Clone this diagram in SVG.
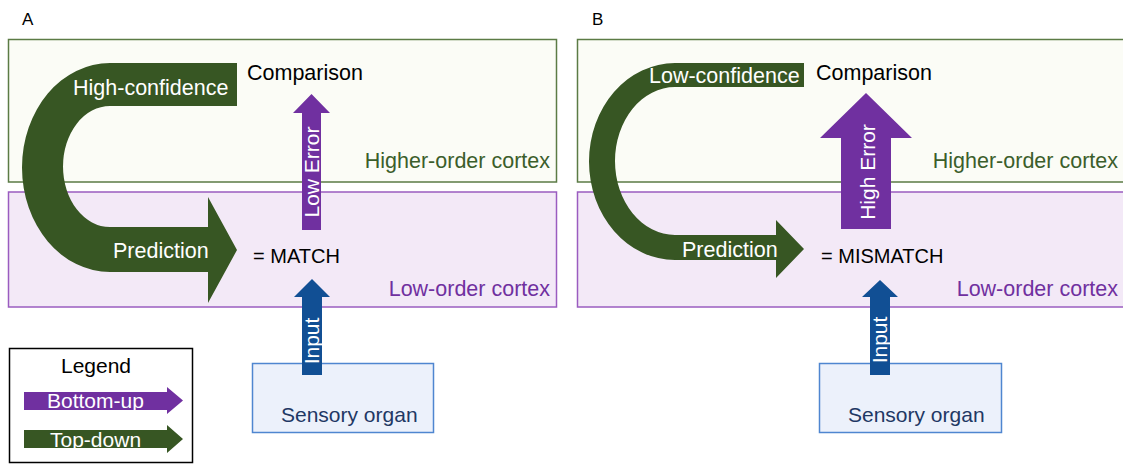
<svg xmlns="http://www.w3.org/2000/svg" width="1123" height="464" viewBox="0 0 1123 464">
<style>
text{font-family:"Liberation Sans",Arial,sans-serif;}
.hi{fill:#fbfcf6;stroke:#5b7b45;stroke-width:1.5;}
.lo{fill:#f3e9f7;stroke:#9a5cc0;stroke-width:1.5;}
.so{fill:#ecf1fb;stroke:#4f86d0;stroke-width:1.5;}
.td{fill:#375623;}
.bu{fill:#7030a0;}
.in{fill:#114f94;}
.lbl{font-size:21.5px;fill:#000;}
.wt{font-size:21.5px;fill:#fff;}
.wr{font-size:21px;fill:#fff;text-anchor:middle;}
.hl{font-size:21.5px;fill:#3b5e2b;text-anchor:end;}
.ll{font-size:21.5px;fill:#7030a0;text-anchor:end;}
.sl{font-size:21px;fill:#1f3864;}
.pl{font-size:17px;fill:#000;}
</style>

<g id="panel-labels">
<text class="pl" x="22" y="25">A</text>
<text class="pl" x="592" y="25">B</text>
</g>

<g id="higher-cortex-A">
<rect class="hi" x="8.5" y="39.5" width="548" height="142.5"/>
<text class="hl" x="550" y="168">Higher-order cortex</text>
</g>
<g id="low-cortex-A">
<rect class="lo" x="8.5" y="192" width="548" height="115"/>
<text class="ll" x="550" y="296">Low-order cortex</text>
</g>
<g id="sensory-A">
<rect class="so" x="252.5" y="363.5" width="181" height="69"/>
<text class="sl" x="281" y="422">Sensory organ</text>
</g>
<g id="comparison-A"><text class="lbl" x="247" y="80">Comparison</text></g>
<g id="match-A"><text class="lbl" style="font-size:20px" x="253" y="263">= MATCH</text></g>

<g id="higher-cortex-B">
<rect class="hi" x="577.5" y="39.5" width="560" height="142.5"/>
<text class="hl" x="1118" y="168">Higher-order cortex</text>
</g>
<g id="low-cortex-B">
<rect class="lo" x="577.5" y="192" width="560" height="115"/>
<text class="ll" x="1118" y="296">Low-order cortex</text>
</g>
<g id="sensory-B">
<rect class="so" x="819.5" y="363.5" width="182" height="69"/>
<text class="sl" x="848" y="422">Sensory organ</text>
</g>
<g id="comparison-B"><text class="lbl" x="816" y="80">Comparison</text></g>
<g id="mismatch-B"><text class="lbl" style="font-size:20px" x="821" y="263">= MISMATCH</text></g>

<g id="legend">
<rect x="9.5" y="348.5" width="183" height="114" fill="#fff" stroke="#000" stroke-width="1.5"/>
<text x="96" y="373" style="font-size:21px;fill:#000;text-anchor:middle">Legend</text>
<path class="bu" d="M24 392 L167 392 L167 387 L183 400.5 L167 414 L167 410 L24 410 Z"/>
<text class="wt" style="font-size:21px" x="47" y="408">Bottom-up</text>
<path class="td" d="M24 430 L167 430 L167 425 L183 439 L167 453 L167 448 L24 448 Z"/>
<text class="wt" style="font-size:21px" x="50" y="447">Top-down</text>
</g>

<g id="connectors">
<g id="topdown-A">
<path class="td" d="M237 63 L110 63 A88 104.5 0 0 0 110 272 L208 272 L208 303 L237 250 L208 197 L208 227 L110 227 A47 60.5 0 0 1 110 106 L237 106 Z"/>
<text class="wt" x="73" y="95">High-confidence</text>
<text class="wt" x="113" y="258">Prediction</text>
</g>
<g id="error-A">
<path class="bu" d="M302 230 L302 113 L293 113 L311.5 94 L330 113 L321 113 L321 230 Z"/>
<text class="wr" transform="translate(319,172) rotate(-90)">Low Error</text>
</g>
<g id="input-A">
<path class="in" d="M302 375 L302 297 L294 297 L312 279 L330 297 L322 297 L322 375 Z"/>
<text class="wr" transform="translate(319,341) rotate(-90)">Input</text>
</g>
<g id="topdown-B">
<path class="td" d="M804 63 L675 63 A86 98.5 0 0 0 675 260 L776 260 L776 278 L804 249 L776 220 L776 235 L675 235 A60 74 0 0 1 675 87 L804 87 Z"/>
<text class="wt" x="649" y="83">Low-confidence</text>
<text class="wt" x="682" y="257">Prediction</text>
</g>
<g id="error-B">
<path class="bu" d="M841 229 L841 138 L820 138 L866 93 L912 138 L891 138 L891 229 Z"/>
<text class="wr" transform="translate(875,172) rotate(-90)">High Error</text>
</g>
<g id="input-B">
<path class="in" d="M870 375 L870 297 L862 297 L880 280 L898 297 L890 297 L890 375 Z"/>
<text class="wr" transform="translate(887,340) rotate(-90)">Input</text>
</g>
</g>
</svg>
